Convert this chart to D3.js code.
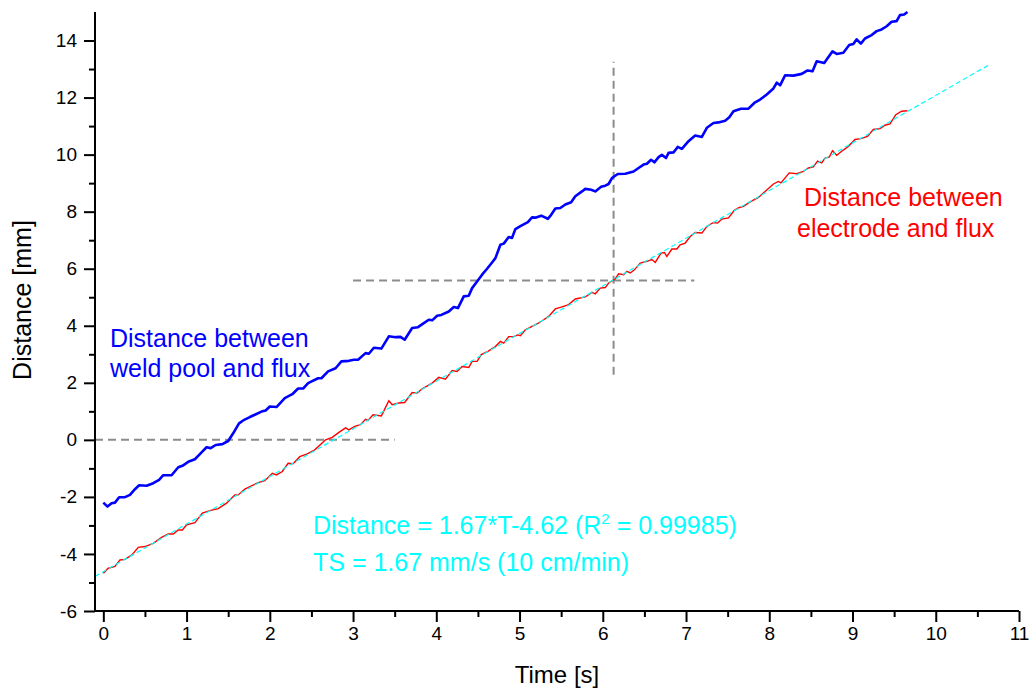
<!DOCTYPE html>
<html>
<head>
<meta charset="utf-8">
<script src="https://cdn.jsdelivr.net/npm/d3@7"></script>
<style>
  body { margin: 0; background: #fff; }
  text { font-family: "Liberation Sans", Arial, sans-serif; }
</style>
</head>
<body>
<svg id="chart"></svg>
<script>
// weld pool to flux distance (blue)
var blueT = [0.00, 0.05, 0.10, 0.14, 0.19, 0.26, 0.32, 0.38, 0.43, 0.52, 0.60, 0.67, 0.72, 0.82, 0.90, 0.95,
  1.02, 1.10, 1.18, 1.24, 1.29, 1.35, 1.43, 1.50, 1.56, 1.63, 1.68, 1.76, 1.82, 1.90, 1.95, 2.00, 2.08,
  2.18, 2.27, 2.34, 2.40, 2.46, 2.58, 2.62, 2.70, 2.79, 2.86, 2.95, 3.01, 3.06, 3.15, 3.19, 3.25, 3.34,
  3.43, 3.51, 3.57, 3.62, 3.71, 3.78, 3.85, 3.91, 3.95, 4.01, 4.06, 4.15, 4.21, 4.26, 4.33, 4.39, 4.43,
  4.49, 4.55, 4.61, 4.67, 4.71, 4.77, 4.81, 4.87, 4.91, 4.95, 5.01, 5.10, 5.15, 5.19, 5.26, 5.34, 5.38,
  5.43, 5.49, 5.55, 5.62, 5.67, 5.75, 5.79, 5.86, 5.91, 5.98, 6.03, 6.07, 6.11, 6.18, 6.27, 6.37, 6.43,
  6.49, 6.53, 6.58, 6.62, 6.67, 6.71, 6.76, 6.79, 6.85, 6.90, 6.95, 7.03, 7.11, 7.19, 7.25, 7.33, 7.39,
  7.47, 7.52, 7.57, 7.66, 7.75, 7.82, 7.89, 7.97, 8.05, 8.09, 8.13, 8.19, 8.29, 8.39, 8.46, 8.52, 8.57,
  8.66, 8.76, 8.81, 8.89, 8.96, 9.01, 9.05, 9.10, 9.15, 9.23, 9.29, 9.35, 9.41, 9.47, 9.53, 9.57, 9.62, 9.66];
var blueD = [-2.20, -2.34, -2.22, -2.20, -2.01, -2.01, -1.93, -1.73, -1.59, -1.61, -1.52, -1.40, -1.24, -1.24, -0.96, -0.91,
  -0.77, -0.68, -0.44, -0.26, -0.29, -0.18, -0.15, -0.04, 0.23, 0.58, 0.68, 0.80, 0.88, 0.99, 1.03, 1.17, 1.15,
  1.46, 1.60, 1.80, 1.80, 1.99, 2.16, 2.16, 2.40, 2.51, 2.75, 2.77, 2.81, 2.81, 3.04, 3.02, 3.23, 3.20,
  3.63, 3.60, 3.61, 3.51, 3.92, 3.95, 4.09, 4.21, 4.19, 4.35, 4.38, 4.50, 4.66, 4.62, 5.03, 5.05, 5.32,
  5.55, 5.79, 6.00, 6.22, 6.37, 6.84, 6.88, 7.11, 7.08, 7.39, 7.49, 7.63, 7.80, 7.79, 7.86, 7.75, 7.89,
  8.11, 8.13, 8.25, 8.33, 8.54, 8.71, 8.80, 8.77, 8.71, 8.87, 8.91, 8.97, 9.18, 9.32, 9.33, 9.41, 9.53,
  9.65, 9.68, 9.82, 9.73, 9.91, 9.99, 9.88, 10.06, 10.08, 10.27, 10.20, 10.47, 10.67, 10.62, 10.94, 11.11, 11.13,
  11.19, 11.31, 11.52, 11.61, 11.61, 11.81, 11.93, 12.11, 12.32, 12.52, 12.43, 12.78, 12.77, 12.83, 12.95, 12.92, 13.27,
  13.21, 13.62, 13.53, 13.57, 13.84, 13.88, 14.04, 13.89, 14.07, 14.19, 14.33, 14.39, 14.50, 14.66, 14.68, 14.89, 14.91, 15.00];

// electrode to flux distance (red)
var redT = [0.00, 0.06, 0.14, 0.20, 0.26, 0.34, 0.42, 0.50, 0.60, 0.70, 0.78, 0.84, 0.90, 0.95, 1.00, 1.10,
  1.19, 1.28, 1.38, 1.48, 1.58, 1.62, 1.70, 1.78, 1.86, 1.94, 2.03, 2.08, 2.15, 2.22, 2.28, 2.36, 2.45,
  2.54, 2.67, 2.75, 2.83, 2.91, 2.95, 3.02, 3.09, 3.15, 3.18, 3.24, 3.34, 3.43, 3.47, 3.55, 3.62, 3.71,
  3.77, 3.83, 3.95, 4.03, 4.11, 4.19, 4.25, 4.31, 4.39, 4.43, 4.49, 4.54, 4.62, 4.71, 4.77, 4.81, 4.87,
  4.93, 4.98, 5.01, 5.07, 5.15, 5.22, 5.29, 5.35, 5.43, 5.51, 5.59, 5.67, 5.79, 5.87, 5.91, 5.97, 6.03,
  6.07, 6.15, 6.19, 6.25, 6.29, 6.33, 6.38, 6.45, 6.53, 6.59, 6.63, 6.70, 6.74, 6.77, 6.83, 6.89, 6.93,
  6.99, 7.05, 7.11, 7.19, 7.25, 7.33, 7.38, 7.43, 7.51, 7.58, 7.63, 7.69, 7.77, 7.87, 7.95, 8.05, 8.11,
  8.14, 8.24, 8.33, 8.41, 8.47, 8.53, 8.58, 8.63, 8.67, 8.72, 8.76, 8.81, 8.87, 8.95, 9.03, 9.10, 9.18,
  9.25, 9.33, 9.39, 9.45, 9.52, 9.59, 9.66];
var redD = [-4.68, -4.50, -4.44, -4.21, -4.19, -4.04, -3.77, -3.74, -3.63, -3.42, -3.30, -3.30, -3.16, -3.16, -2.98, -2.90,
  -2.57, -2.48, -2.41, -2.22, -1.93, -1.93, -1.73, -1.61, -1.50, -1.43, -1.17, -1.23, -1.11, -0.82, -0.84, -0.59, -0.49,
  -0.35, 0.00, 0.09, 0.26, 0.42, 0.35, 0.47, 0.53, 0.72, 0.68, 0.88, 0.84, 1.37, 1.23, 1.29, 1.31, 1.66,
  1.64, 1.79, 1.99, 2.19, 2.13, 2.43, 2.40, 2.57, 2.54, 2.75, 2.75, 2.99, 3.10, 3.27, 3.45, 3.39, 3.62,
  3.62, 3.68, 3.65, 3.86, 3.98, 4.08, 4.21, 4.33, 4.59, 4.66, 4.74, 4.94, 5.01, 5.17, 5.12, 5.32, 5.34,
  5.50, 5.64, 5.82, 5.79, 5.91, 5.85, 5.96, 6.20, 6.26, 6.32, 6.22, 6.55, 6.57, 6.43, 6.69, 6.69, 6.84,
  6.90, 7.13, 7.27, 7.25, 7.48, 7.62, 7.60, 7.74, 7.78, 8.05, 8.13, 8.19, 8.34, 8.50, 8.71, 8.97, 9.06,
  9.01, 9.36, 9.33, 9.41, 9.53, 9.57, 9.77, 9.71, 9.88, 9.91, 10.14, 9.98, 10.12, 10.29, 10.53, 10.56, 10.64,
  10.88, 10.91, 11.03, 11.08, 11.40, 11.52, 11.54];

// linear fit (cyan), ends
var fitT = [-0.1, 10.63];
var fitD = [-4.79, 13.13];

// grey dashed guides [t1, d1, t2, d2]
var guides = [
  [-0.1, 0, 3.5, 0],
  [3.0, 5.59, 7.1, 5.59],
  [6.13, 2.28, 6.13, 13.26]
];

var xTicks = [0, 1, 2, 3, 4, 5, 6, 7, 8, 9, 10, 11];
var yTicks = [-6, -4, -2, 0, 2, 4, 6, 8, 10, 12, 14];

var width = 1035;
var height = 693;
var font = '"Liberation Sans", Arial, sans-serif';

var svg = d3.select("#chart").attr("width", width).attr("height", height);

var x = d3.scaleLinear().domain([-0.1, 11]).range([95, 1019]);
var y = d3.scaleLinear().domain([-6, 15]).range([611, 12]);

// guides
svg
  .selectAll(".guide")
  .data(guides)
  .enter()
  .append("line")
  .attr("class", "guide")
  .attr("x1", function (d) { return x(d[0]); })
  .attr("y1", function (d) { return y(d[1]); })
  .attr("x2", function (d) { return x(d[2]); })
  .attr("y2", function (d) { return y(d[3]); })
  .style("stroke", "#8c8c8c")
  .style("stroke-width", 2)
  .style("stroke-dasharray", "8,5");

var line = d3
  .line()
  .x(function (d) { return x(d[0]); })
  .y(function (d) { return y(d[1]); });

svg
  .append("path")
  .datum(d3.zip(blueT, blueD))
  .attr("d", line)
  .style("fill", "none")
  .style("stroke", "#0000ff")
  .style("stroke-width", 2.6)
  .style("stroke-linejoin", "round");

svg
  .append("path")
  .datum(d3.zip(redT, redD))
  .attr("d", line)
  .style("fill", "none")
  .style("stroke", "#ff0000")
  .style("stroke-width", 1.4);

svg
  .append("path")
  .datum(d3.zip(fitT, fitD))
  .attr("d", line)
  .style("fill", "none")
  .style("stroke", "#00ffff")
  .style("stroke-width", 1.2)
  .style("stroke-dasharray", "5,3");

// axes
var xAxis = d3.axisBottom(x).tickValues(xTicks).tickSize(11).tickPadding(5).tickFormat(d3.format("d"));
var xMinor = d3.axisBottom(x).tickValues(d3.range(0.5, 11, 1)).tickSize(6).tickFormat("");
var yAxis = d3.axisLeft(y).tickValues(yTicks).tickSize(11).tickPadding(7).tickFormat(function (d) { return d < 0 ? "-" + Math.abs(d) : d; });
var yMinor = d3.axisLeft(y).tickValues(d3.range(-5, 15, 2)).tickSize(6).tickFormat("");

function styleAxis(g) {
  g.select(".domain").style("stroke", "#000").style("stroke-width", 2);
  g.selectAll(".tick line").style("stroke", "#000").style("stroke-width", 2);
  g.selectAll(".tick text").style("font-family", font).style("font-size", "19px").style("fill", "#000");
}

svg.append("g").attr("transform", "translate(0,611)").call(xMinor).call(styleAxis).select(".domain").remove();
svg.append("g").attr("transform", "translate(0,611)").call(xAxis).call(styleAxis)
  .select(".domain").attr("d", "M95,0H1019");
svg.append("g").attr("transform", "translate(95,0)").call(yMinor).call(styleAxis).select(".domain").remove();
svg.append("g").attr("transform", "translate(95,0)").call(yAxis).call(styleAxis)
  .select(".domain").attr("d", "M0,611V12");

// axis titles
svg
  .append("text")
  .attr("x", 557)
  .attr("y", 683)
  .attr("text-anchor", "middle")
  .style("font-size", "24px")
  .text("Time [s]");
svg
  .append("text")
  .attr("transform", "translate(31,300)rotate(-90)")
  .attr("text-anchor", "middle")
  .style("font-size", "25px")
  .text("Distance [mm]");

// labels
svg.append("text").attr("x", 110).attr("y", 347).style("font-size", "25px").style("fill", "#0000ff").text("Distance between");
svg.append("text").attr("x", 110).attr("y", 377).style("font-size", "25px").style("fill", "#0000ff").text("weld pool and flux");
svg.append("text").attr("x", 804).attr("y", 206).style("font-size", "25px").style("fill", "#ff0000").text("Distance between");
svg.append("text").attr("x", 797).attr("y", 237).style("font-size", "25px").style("fill", "#ff0000").text("electrode and flux");

var eq = svg
  .append("text")
  .attr("x", 313)
  .attr("y", 534)
  .style("font-size", "25px")
  .style("fill", "#00ffff");
eq.append("tspan").text("Distance = 1.67*T-4.62 (R");
eq.append("tspan").attr("dy", -10).style("font-size", "15px").text("2");
eq.append("tspan").attr("dy", 10).text(" = 0.99985)");

svg
  .append("text")
  .attr("x", 313)
  .attr("y", 571)
  .style("font-size", "25px")
  .style("fill", "#00ffff")
  .text("TS = 1.67 mm/s (10 cm/min)");
</script>
</body>
</html>
